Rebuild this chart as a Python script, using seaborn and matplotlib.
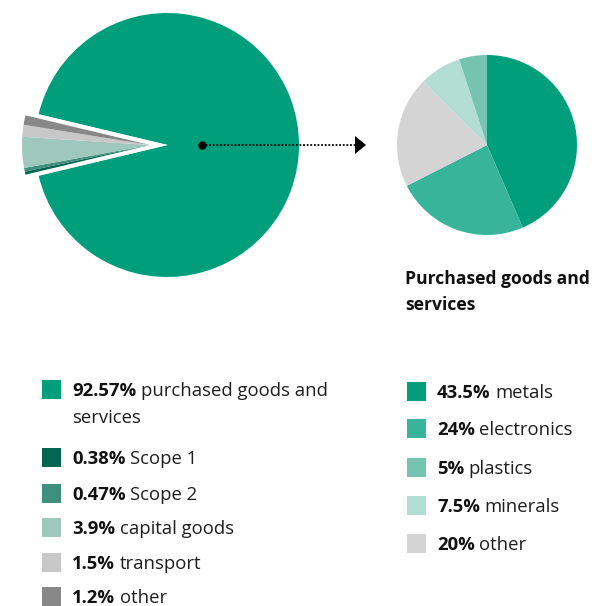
import matplotlib
matplotlib.use("Agg")
import matplotlib.pyplot as plt
import seaborn as sns

# ============================================================
# Data
# ============================================================

scope_labels = ["purchased goods and\nservices", "Scope 1", "Scope 2",
                "capital goods", "transport", "other"]
scope_values = [92.57, 0.38, 0.47, 3.9, 1.5, 1.2]
scope_pct = ["92.57%", "0.38%", "0.47%", "3.9%", "1.5%", "1.2%"]
scope_colors = ["#009e7b", "#00664f", "#3e8f7b", "#9fc8bd", "#c8c8c8", "#888888"]

goods_labels = ["metals", "electronics", "plastics", "minerals", "other"]
goods_values = [43.5, 24, 5, 7.5, 20]
goods_pct = ["43.5%", "24%", "5%", "7.5%", "20%"]
goods_colors = ["#009e7b", "#38b49a", "#74c4b0", "#b2ddd2", "#d4d4d4"]
# drawing order (clockwise from 12 o'clock)
goods_order = [0, 1, 4, 3, 2]

# ============================================================
# Figure
# ============================================================

sns.set_theme(style="white")
plt.rcParams["font.family"] = ["Open Sans", "Lato", "DejaVu Sans"]

W, H = 595, 606
fig = plt.figure(figsize=(W / 100, H / 100), dpi=100)
ax = fig.add_axes([0, 0, 1, 1])


def Y(y):
    return H - y


# big pie: main slice stays, small slices pulled out to the left
big_c = (167, Y(145))
big_r = 132
small_total = sum(scope_values[1:])
start = 180 - small_total / 100 * 360 / 2

ax.pie(scope_values, colors=[scope_colors[0]] + ["none"] * 5,
       startangle=start, counterclock=False, center=big_c, radius=big_r,
       frame=True, wedgeprops=dict(linewidth=0))

off_c = (big_c[0] - 17, big_c[1])
# white outline around the pulled-out group
group, _ = ax.pie([scope_values[0], small_total], colors=["none", "white"],
                  startangle=start, counterclock=False, center=off_c,
                  radius=big_r - 4, frame=True, wedgeprops=dict(linewidth=0))
group[1].set_edgecolor("white")
group[1].set_linewidth(6)

ax.pie(scope_values, colors=["none"] + scope_colors[1:],
       startangle=start, counterclock=False, center=off_c, radius=big_r - 4,
       frame=True, wedgeprops=dict(linewidth=0))

# small pie
ax.pie([goods_values[i] for i in goods_order],
       colors=[goods_colors[i] for i in goods_order],
       startangle=90, counterclock=False, center=(487, Y(145)), radius=90,
       frame=True, wedgeprops=dict(linewidth=0))

# dotted connector
ax.plot([202, 356], [Y(145), Y(145)], color="black", linestyle=(0, (1, 1)),
        linewidth=1.3)
ax.plot(202, Y(145), "o", color="black", markersize=5)
ax.fill([355, 366, 355], [Y(136), Y(145), Y(154)], color="black", linewidth=0)

ax.text(405, Y(292), "Purchased goods and\nservices", fontsize=12.6,
        fontweight="bold", va="center", ha="left", linespacing=1.55,
        color="#111111")


def legend_row(x, y, color, pct, label):
    ax.add_patch(plt.Rectangle((x, Y(y) - 9.5), 19, 19, color=color, lw=0))
    t = ax.text(x + 30, Y(y + 2), pct, fontsize=13.3, fontweight="bold",
                va="center", ha="left", color="#111111")
    lines = label.split("\n")
    ax.annotate(lines[0], xy=(1, 0), xycoords=t, xytext=(3.2, 0),
                textcoords="offset points", fontsize=13.3, va="bottom",
                ha="left", color="#1e1e1e")
    if len(lines) > 1:
        ax.text(x + 30, Y(y + 29), lines[1], fontsize=13.3, va="center",
                ha="left", color="#1e1e1e")


left_y = [389, 457, 493, 527, 562, 596]
for i in range(len(scope_labels)):
    legend_row(42, left_y[i], scope_colors[i], scope_pct[i], scope_labels[i])

right_y = [391, 428, 467, 505, 543]
for i in range(len(goods_labels)):
    legend_row(407, right_y[i], goods_colors[i], goods_pct[i], goods_labels[i])

ax.set_xlim(0, W)
ax.set_ylim(0, H)
ax.set_aspect("auto")
ax.axis("off")

fig.savefig("out.png", dpi=100)
